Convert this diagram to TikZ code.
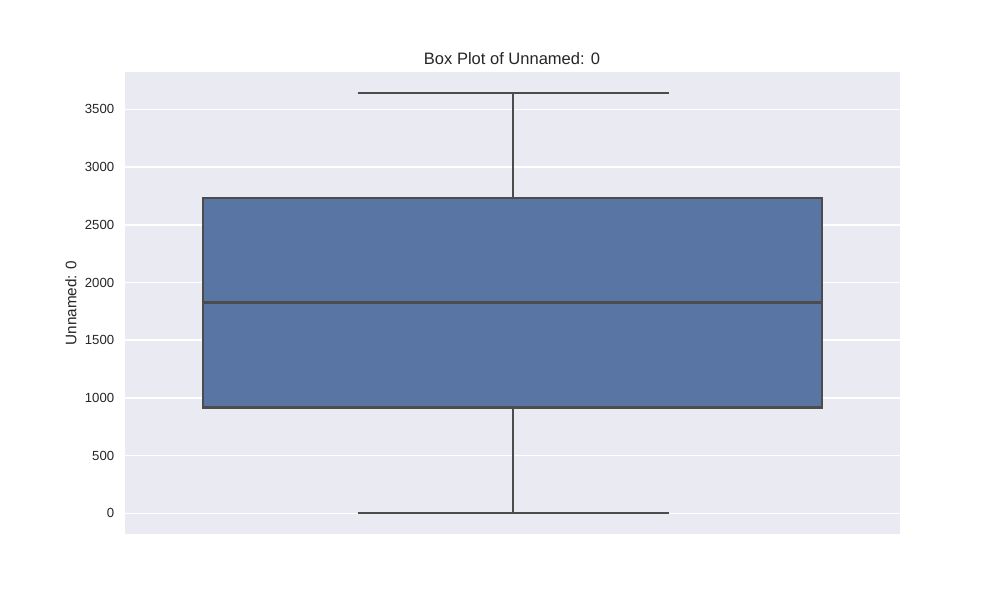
\documentclass[tikz,border=0pt]{standalone}
\usepackage{fontspec}
\setmainfont{Liberation Sans}
\definecolor{bgax}{HTML}{EAEAF2}
\definecolor{boxfill}{HTML}{5875A4}
\definecolor{lineg}{HTML}{4C4C4C}
\definecolor{txt}{HTML}{262626}
\tikzset{
  grid line/.style={draw=white, line width=1.1pt},
  box line/.style={draw=lineg, line width=1.6pt},
  tick label/.style={anchor=east, text=txt, font=\fontsize{9.5}{11}\selectfont, inner sep=0pt},
  title label/.style={text=txt, font=\fontsize{11.9}{14}\selectfont, inner sep=0pt},
  axis label/.style={text=txt, font=\fontsize{11}{13}\selectfont, inner sep=0pt, rotate=90},
}
\begin{document}
\begin{tikzpicture}[x=0.72pt, y=-0.72pt]
  \useasboundingbox (0,0) rectangle (1000,600);
  \fill[white] (0,0) rectangle (1000,600);
  % axes background
  \fill[bgax] (125,72) rectangle (900,534);
  % gridlines and tick labels
  \foreach \v/\yy in {0/513.3, 500/455.6, 1000/397.9, 1500/340.2, 2000/282.5, 2500/224.8, 3000/167.0, 3500/109.3} {
    \draw[grid line] (125,\yy) -- (900,\yy);
    \node[tick label] (t\v) at (114.5,\yy) {\v};
  }
  % coordinates
  \coordinate (capTL) at (357.5,93);
  \coordinate (capTR) at (668.5,93);
  \coordinate (wTop) at (513,93);
  \coordinate (boxTop) at (513,198.2);
  \coordinate (boxBot) at (513,407.5);
  \coordinate (wBot) at (513,513.3);
  \coordinate (capBL) at (357.5,513.3);
  \coordinate (capBR) at (668.5,513.3);
  \coordinate (medL) at (203.3,302.6);
  \coordinate (medR) at (822.3,302.6);
  % whiskers
  \draw[box line] (wTop) -- (boxTop);
  \draw[box line] (boxBot) -- (wBot);
  \draw[box line, line cap=butt] (capTL) -- (capTR);
  \draw[box line, line cap=butt] (capBL) -- (capBR);
  % box
  \node[box line, fill=boxfill, rectangle, inner sep=0pt, minimum width=619pt*0.72, minimum height=209.3pt*0.72] (box) at (512.8,302.85) {};
  \draw[box line] (medL) -- (medR);
  % labels
  \node[title label] (title) at (512,58.5) {Box Plot of Unnamed: 0};
  \node[axis label] (ylab) at (71,303) {Unnamed: 0};
\end{tikzpicture}
\end{document}
